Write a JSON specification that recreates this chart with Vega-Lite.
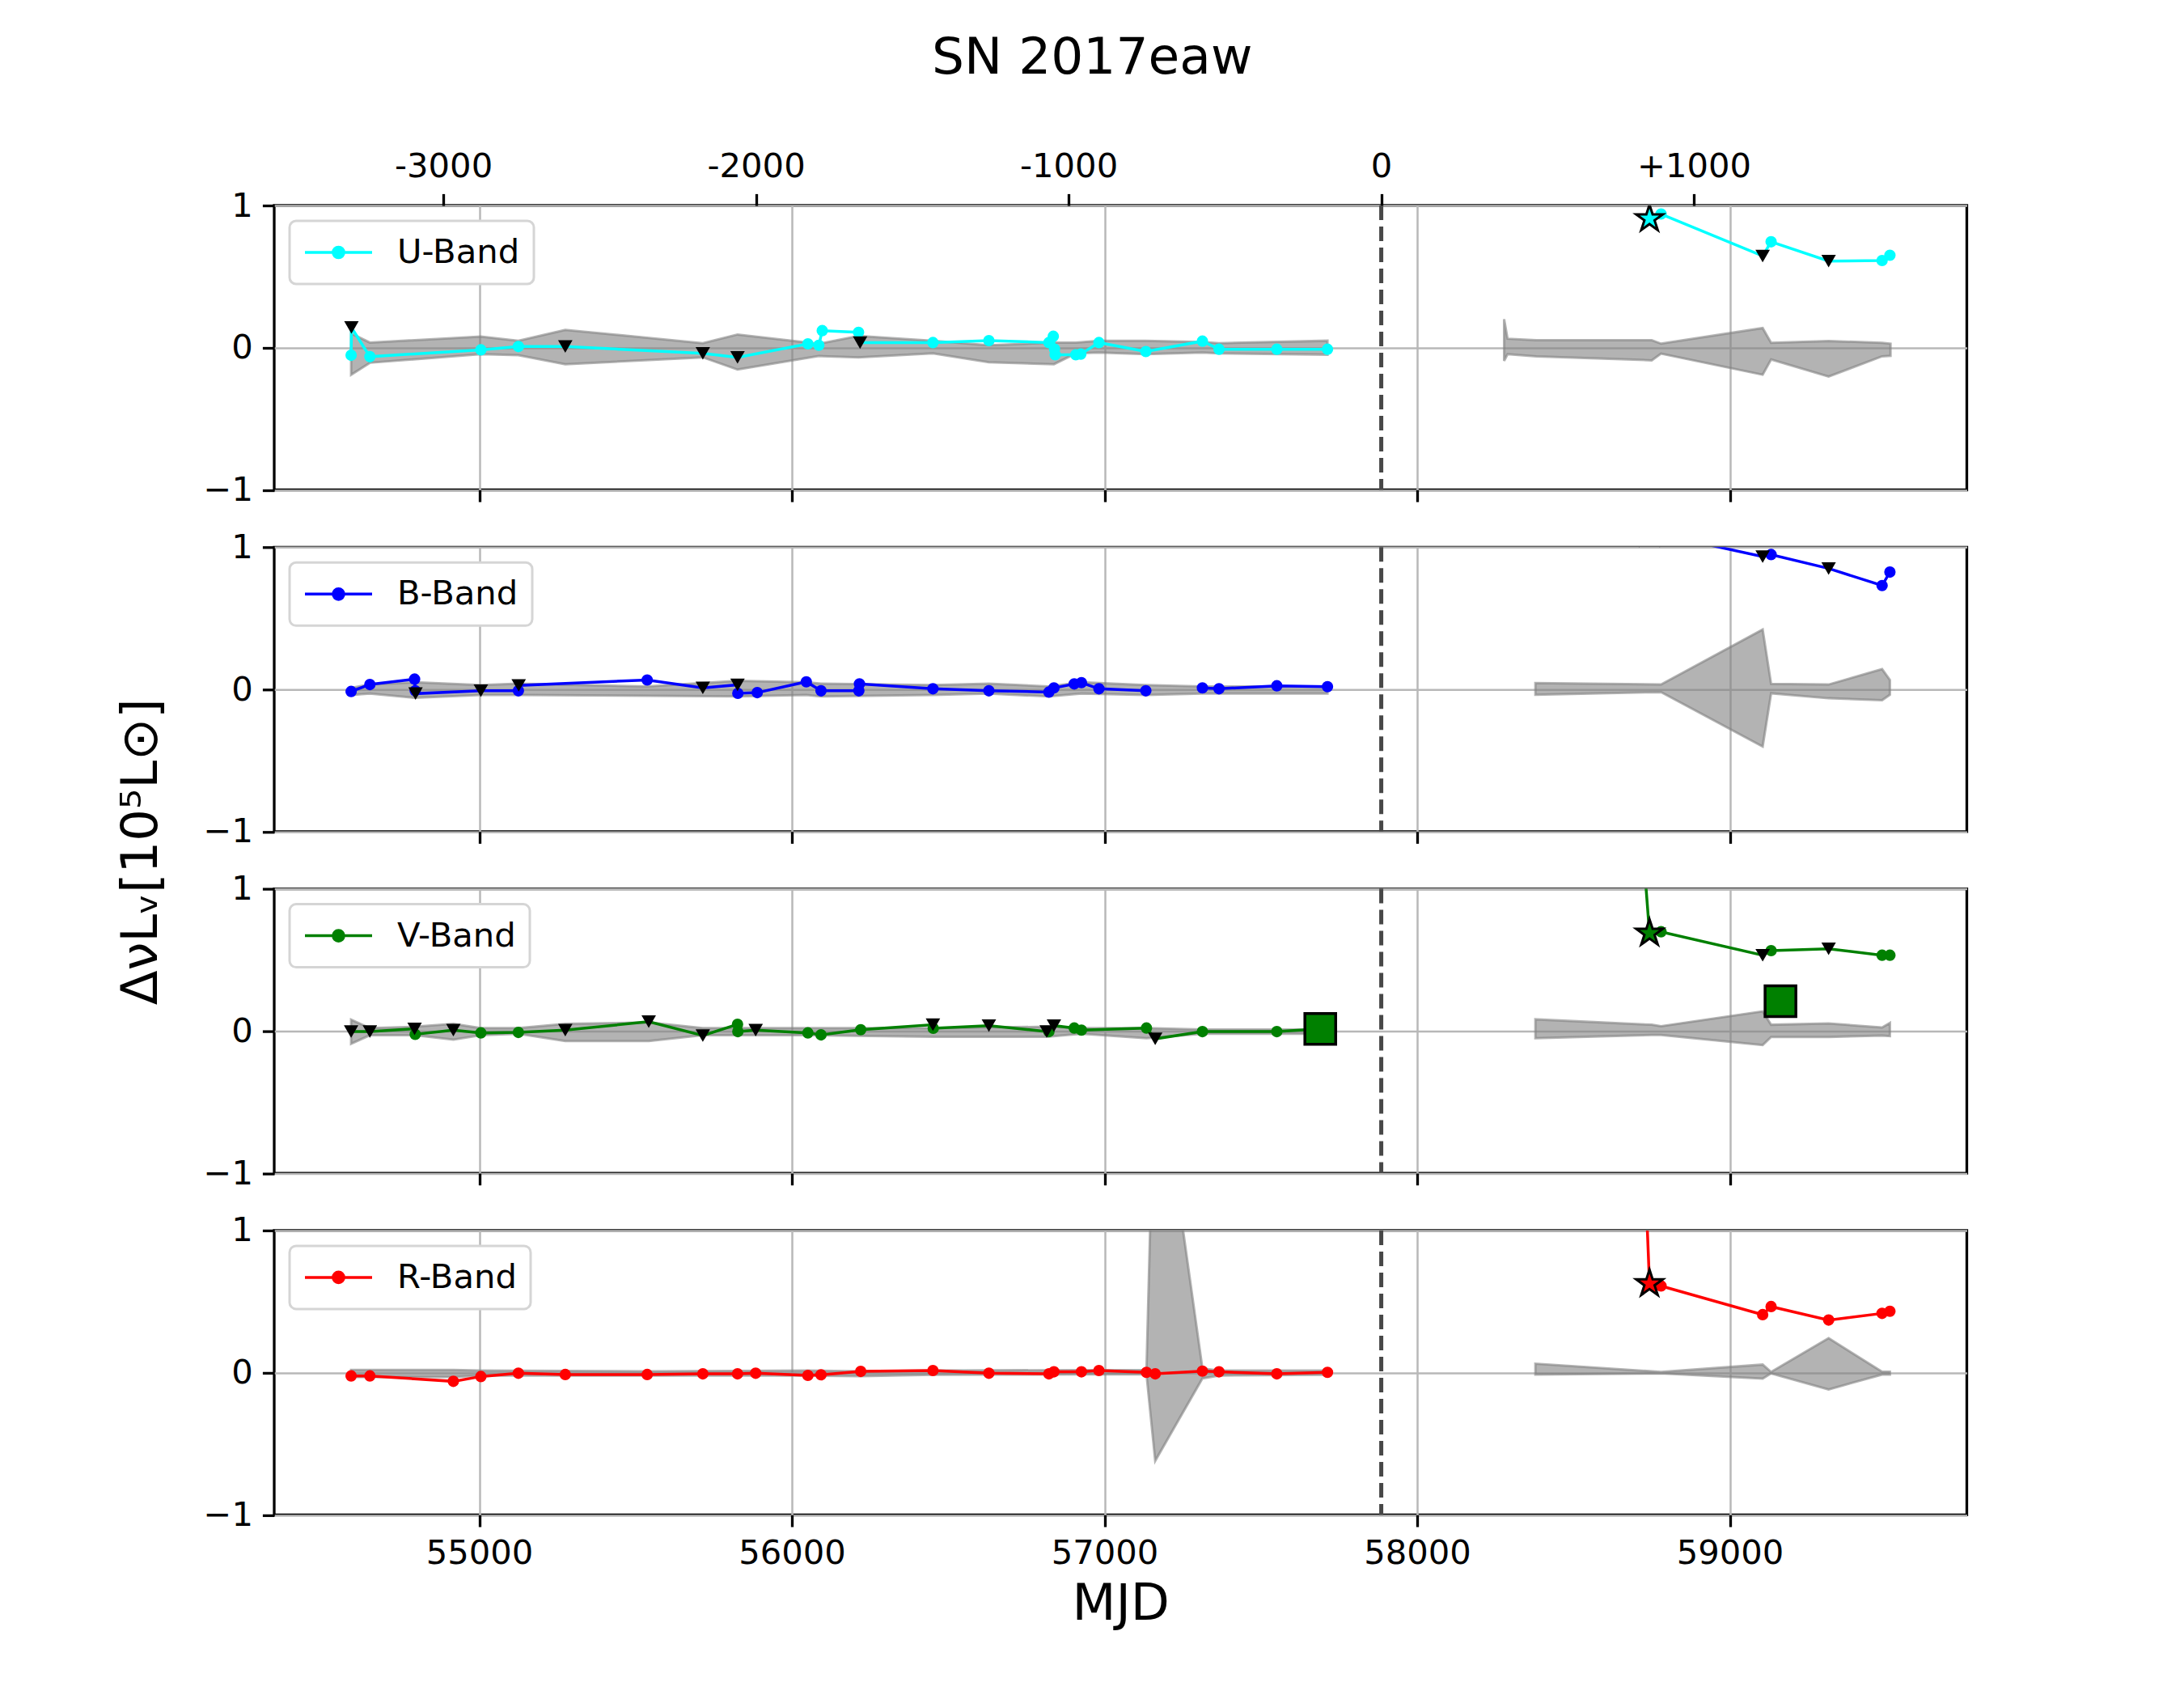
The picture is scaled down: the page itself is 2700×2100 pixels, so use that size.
{
  "$schema": "https://vega.github.io/schema/vega-lite/v6.json",
  "background": "white",
  "autosize": {"type": "pad"},
  "padding": {"left": 141, "top": 40, "right": 20, "bottom": 20},
  "title": {"text": "SN 2017eaw", "fontSize": 63, "fontWeight": "normal", "font": "DejaVu Sans", "color": "black", "anchor": "middle", "frame": "group", "offset": 80, "dx": -35},
  "bounds": "flush",
  "spacing": 70.3,
  "resolve": {"scale": {"color": "independent"}, "legend": {"color": "independent"}},
  "config": {
    "font": "DejaVu Sans",
    "view": {"stroke": "black", "strokeWidth": 3.3},
    "axis": {"domain": false, "tickColor": "black", "tickWidth": 3.3, "tickSize": 14.6, "labelFontSize": 41.7, "labelFont": "DejaVu Sans", "labelColor": "black", "labelPadding": 12, "labelFlush": false, "labelOverlap": false, "gridColor": "#b8b8b8", "gridWidth": 2.5, "titleFont": "DejaVu Sans", "titleFontSize": 62.5, "titleFontWeight": "normal", "titleColor": "black"},
    "legend": {"orient": "top-left", "offset": 19, "padding": 17, "cornerRadius": 8, "fillColor": "white", "strokeColor": "#d5d5d5", "strokeWidth": 3, "labelFontSize": 41.7, "labelFont": "DejaVu Sans", "labelColor": "black", "labelOffset": 72, "labelLimit": 0}
  },
  "datasets": {
    "pts": [
      {"b":"U","s":1,"mjd":54590,"v":-0.053,"k":"d"},{"b":"U","s":1,"mjd":54591,"v":0.142,"k":"l"},{"b":"U","s":1,"mjd":54650,"v":-0.063,"k":"d"},{"b":"U","s":1,"mjd":55005,"v":-0.015,"k":"d"},{"b":"U","s":1,"mjd":55125,"v":0.008,"k":"d"},{"b":"U","s":1,"mjd":55275,"v":0.008,"k":"l"},{"b":"U","s":1,"mjd":55715,"v":-0.040,"k":"l"},{"b":"U","s":1,"mjd":55826,"v":-0.068,"k":"l"},{"b":"U","s":1,"mjd":56051,"v":0.027,"k":"d"},{"b":"U","s":1,"mjd":56086,"v":0.017,"k":"d"},{"b":"U","s":1,"mjd":56097,"v":0.120,"k":"d"},{"b":"U","s":1,"mjd":56213,"v":0.108,"k":"d"},{"b":"U","s":1,"mjd":56218,"v":0.036,"k":"l"},{"b":"U","s":1,"mjd":56451,"v":0.036,"k":"d"},{"b":"U","s":1,"mjd":56630,"v":0.050,"k":"d"},{"b":"U","s":1,"mjd":56822,"v":0.036,"k":"d"},{"b":"U","s":1,"mjd":56836,"v":0.080,"k":"d"},{"b":"U","s":1,"mjd":56840,"v":-0.010,"k":"d"},{"b":"U","s":1,"mjd":56842,"v":-0.050,"k":"d"},{"b":"U","s":1,"mjd":56908,"v":-0.050,"k":"d"},{"b":"U","s":1,"mjd":56924,"v":-0.045,"k":"d"},{"b":"U","s":1,"mjd":56982,"v":0.036,"k":"d"},{"b":"U","s":1,"mjd":57132,"v":-0.027,"k":"d"},{"b":"U","s":1,"mjd":57313,"v":0.046,"k":"d"},{"b":"U","s":1,"mjd":57366,"v":-0.011,"k":"d"},{"b":"U","s":1,"mjd":57551,"v":-0.011,"k":"d"},{"b":"U","s":1,"mjd":57713,"v":-0.011,"k":"d"},
      {"b":"U","s":2,"mjd":58743,"v":0.907,"k":"s"},{"b":"U","s":2,"mjd":58780,"v":0.940,"k":"d"},{"b":"U","s":2,"mjd":59105,"v":0.645,"k":"l"},{"b":"U","s":2,"mjd":59132,"v":0.745,"k":"d"},{"b":"U","s":2,"mjd":59316,"v":0.609,"k":"l"},{"b":"U","s":2,"mjd":59487,"v":0.613,"k":"d"},{"b":"U","s":2,"mjd":59512,"v":0.650,"k":"d"},
      {"b":"B","s":1,"mjd":54590,"v":-0.015,"k":"d"},{"b":"B","s":1,"mjd":54650,"v":0.034,"k":"d"},{"b":"B","s":1,"mjd":54793,"v":0.072,"k":"d"},{"b":"B","s":1,"mjd":54795,"v":-0.010,"k":"d"},{"b":"B","s":1,"mjd":54796,"v":-0.030,"k":"l"},{"b":"B","s":1,"mjd":55005,"v":-0.010,"k":"l"},{"b":"B","s":1,"mjd":55125,"v":-0.010,"k":"d"},{"b":"B","s":1,"mjd":55126,"v":0.028,"k":"l"},{"b":"B","s":1,"mjd":55537,"v":0.066,"k":"d"},{"b":"B","s":1,"mjd":55715,"v":0.010,"k":"l"},{"b":"B","s":1,"mjd":55826,"v":0.032,"k":"l"},{"b":"B","s":1,"mjd":55827,"v":-0.028,"k":"d"},{"b":"B","s":1,"mjd":55889,"v":-0.023,"k":"d"},{"b":"B","s":1,"mjd":56046,"v":0.053,"k":"d"},{"b":"B","s":1,"mjd":56093,"v":-0.010,"k":"d"},{"b":"B","s":1,"mjd":56214,"v":-0.010,"k":"d"},{"b":"B","s":1,"mjd":56216,"v":0.038,"k":"d"},{"b":"B","s":1,"mjd":56451,"v":0.004,"k":"d"},{"b":"B","s":1,"mjd":56630,"v":-0.010,"k":"d"},{"b":"B","s":1,"mjd":56822,"v":-0.019,"k":"d"},{"b":"B","s":1,"mjd":56838,"v":0.010,"k":"d"},{"b":"B","s":1,"mjd":56903,"v":0.038,"k":"d"},{"b":"B","s":1,"mjd":56926,"v":0.047,"k":"d"},{"b":"B","s":1,"mjd":56982,"v":0.004,"k":"d"},{"b":"B","s":1,"mjd":57132,"v":-0.010,"k":"d"},
      {"b":"B","s":3,"mjd":57313,"v":0.010,"k":"d"},{"b":"B","s":3,"mjd":57366,"v":0.004,"k":"d"},{"b":"B","s":3,"mjd":57551,"v":0.025,"k":"d"},{"b":"B","s":3,"mjd":57713,"v":0.019,"k":"d"},
      {"b":"B","s":2,"mjd":58743,"v":1.10,"k":"s"},{"b":"B","s":2,"mjd":58780,"v":1.09,"k":"d"},{"b":"B","s":2,"mjd":59105,"v":0.933,"k":"l"},{"b":"B","s":2,"mjd":59132,"v":0.948,"k":"d"},{"b":"B","s":2,"mjd":59316,"v":0.850,"k":"l"},{"b":"B","s":2,"mjd":59487,"v":0.730,"k":"d"},{"b":"B","s":2,"mjd":59512,"v":0.825,"k":"d"},
      {"b":"V","s":1,"mjd":54590,"v":-0.004,"k":"l"},{"b":"V","s":1,"mjd":54650,"v":-0.004,"k":"l"},{"b":"V","s":1,"mjd":54793,"v":0.015,"k":"l"},{"b":"V","s":1,"mjd":54795,"v":-0.023,"k":"d"},{"b":"V","s":1,"mjd":54917,"v":0.006,"k":"l"},{"b":"V","s":1,"mjd":55005,"v":-0.013,"k":"d"},{"b":"V","s":1,"mjd":55125,"v":-0.010,"k":"d"},{"b":"V","s":1,"mjd":55275,"v":0.006,"k":"l"},{"b":"V","s":1,"mjd":55542,"v":0.066,"k":"l"},{"b":"V","s":1,"mjd":55715,"v":-0.032,"k":"l"},{"b":"V","s":1,"mjd":55826,"v":0.047,"k":"d"},{"b":"V","s":1,"mjd":55827,"v":-0.004,"k":"d"},{"b":"V","s":1,"mjd":55884,"v":0.006,"k":"l"},{"b":"V","s":1,"mjd":56051,"v":-0.013,"k":"d"},{"b":"V","s":1,"mjd":56093,"v":-0.027,"k":"d"},{"b":"V","s":1,"mjd":56220,"v":0.009,"k":"d"},{"b":"V","s":1,"mjd":56451,"v":0.044,"k":"l"},{"b":"V","s":1,"mjd":56452,"v":0.019,"k":"d"},{"b":"V","s":1,"mjd":56630,"v":0.038,"k":"l"},{"b":"V","s":1,"mjd":56815,"v":-0.004,"k":"l"},{"b":"V","s":1,"mjd":56822,"v":-0.004,"k":"d"},{"b":"V","s":1,"mjd":56838,"v":0.038,"k":"l"},{"b":"V","s":1,"mjd":56903,"v":0.021,"k":"d"},{"b":"V","s":1,"mjd":56926,"v":0.006,"k":"d"},{"b":"V","s":1,"mjd":57134,"v":0.021,"k":"d"},{"b":"V","s":1,"mjd":57162,"v":-0.055,"k":"l"},{"b":"V","s":1,"mjd":57313,"v":-0.004,"k":"d"},{"b":"V","s":1,"mjd":57551,"v":-0.004,"k":"d"},{"b":"V","s":1,"mjd":57690,"v":0.015,"k":"q"},
      {"b":"V","s":2,"mjd":58700,"v":1.93,"k":"h"},{"b":"V","s":2,"mjd":58743,"v":0.688,"k":"s"},{"b":"V","s":2,"mjd":58780,"v":0.698,"k":"d"},{"b":"V","s":2,"mjd":59105,"v":0.533,"k":"l"},{"b":"V","s":2,"mjd":59132,"v":0.565,"k":"d"},{"b":"V","s":2,"mjd":59316,"v":0.578,"k":"l"},{"b":"V","s":2,"mjd":59487,"v":0.533,"k":"d"},{"b":"V","s":2,"mjd":59512,"v":0.533,"k":"d"},
      {"b":"V","s":9,"mjd":59162,"v":0.210,"k":"Q"},
      {"b":"R","s":1,"mjd":54590,"v":-0.023,"k":"d"},{"b":"R","s":1,"mjd":54650,"v":-0.023,"k":"d"},{"b":"R","s":1,"mjd":54917,"v":-0.061,"k":"d"},{"b":"R","s":1,"mjd":55005,"v":-0.027,"k":"d"},{"b":"R","s":1,"mjd":55125,"v":-0.004,"k":"d"},{"b":"R","s":1,"mjd":55275,"v":-0.013,"k":"d"},{"b":"R","s":1,"mjd":55537,"v":-0.013,"k":"d"},{"b":"R","s":1,"mjd":55715,"v":-0.008,"k":"d"},{"b":"R","s":1,"mjd":55826,"v":-0.008,"k":"d"},{"b":"R","s":1,"mjd":55884,"v":-0.004,"k":"d"},{"b":"R","s":1,"mjd":56051,"v":-0.019,"k":"d"},{"b":"R","s":1,"mjd":56093,"v":-0.015,"k":"d"},{"b":"R","s":1,"mjd":56220,"v":0.009,"k":"d"},{"b":"R","s":1,"mjd":56451,"v":0.015,"k":"d"},{"b":"R","s":1,"mjd":56630,"v":-0.004,"k":"d"},{"b":"R","s":1,"mjd":56822,"v":-0.008,"k":"d"},{"b":"R","s":1,"mjd":56838,"v":0.006,"k":"d"},{"b":"R","s":1,"mjd":56926,"v":0.006,"k":"d"},{"b":"R","s":1,"mjd":56982,"v":0.015,"k":"d"},{"b":"R","s":1,"mjd":57134,"v":0.002,"k":"d"},{"b":"R","s":1,"mjd":57162,"v":-0.008,"k":"d"},{"b":"R","s":1,"mjd":57313,"v":0.011,"k":"d"},{"b":"R","s":1,"mjd":57366,"v":0.006,"k":"d"},{"b":"R","s":1,"mjd":57551,"v":-0.008,"k":"d"},{"b":"R","s":1,"mjd":57713,"v":0.002,"k":"d"},
      {"b":"R","s":2,"mjd":58700,"v":3.0,"k":"h"},{"b":"R","s":2,"mjd":58743,"v":0.626,"k":"s"},{"b":"R","s":2,"mjd":58780,"v":0.610,"k":"d"},{"b":"R","s":2,"mjd":59105,"v":0.408,"k":"d"},{"b":"R","s":2,"mjd":59132,"v":0.465,"k":"d"},{"b":"R","s":2,"mjd":59316,"v":0.370,"k":"d"},{"b":"R","s":2,"mjd":59487,"v":0.417,"k":"d"},{"b":"R","s":2,"mjd":59512,"v":0.432,"k":"d"}
    ],
    "band": [
      {"b":"U","s":1,"mjd":54590,"lo":-0.19,"hi":0.10},{"b":"U","s":1,"mjd":54650,"lo":-0.106,"hi":0.036},{"b":"U","s":1,"mjd":55005,"lo":-0.046,"hi":0.078},{"b":"U","s":1,"mjd":55125,"lo":-0.053,"hi":0.049},{"b":"U","s":1,"mjd":55275,"lo":-0.116,"hi":0.125},{"b":"U","s":1,"mjd":55715,"lo":-0.068,"hi":0.032},{"b":"U","s":1,"mjd":55826,"lo":-0.154,"hi":0.093},{"b":"U","s":1,"mjd":56086,"lo":-0.059,"hi":0.027},{"b":"U","s":1,"mjd":56213,"lo":-0.068,"hi":0.083},{"b":"U","s":1,"mjd":56451,"lo":-0.040,"hi":0.049},{"b":"U","s":1,"mjd":56630,"lo":-0.103,"hi":0.017},{"b":"U","s":1,"mjd":56838,"lo":-0.116,"hi":0.036},{"b":"U","s":1,"mjd":56908,"lo":-0.040,"hi":0.036},{"b":"U","s":1,"mjd":56982,"lo":-0.034,"hi":0.049},{"b":"U","s":1,"mjd":57132,"lo":-0.046,"hi":0.049},{"b":"U","s":1,"mjd":57313,"lo":-0.034,"hi":0.040},{"b":"U","s":1,"mjd":57366,"lo":-0.040,"hi":0.032},{"b":"U","s":1,"mjd":57713,"lo":-0.049,"hi":0.049},
      {"b":"U","s":2,"mjd":58278,"lo":-0.093,"hi":0.200},{"b":"U","s":2,"mjd":58289,"lo":-0.046,"hi":0.063},{"b":"U","s":2,"mjd":58381,"lo":-0.061,"hi":0.053},{"b":"U","s":2,"mjd":58750,"lo":-0.089,"hi":0.053},{"b":"U","s":2,"mjd":58780,"lo":-0.042,"hi":0.028},{"b":"U","s":2,"mjd":59105,"lo":-0.190,"hi":0.138},{"b":"U","s":2,"mjd":59132,"lo":-0.083,"hi":0.034},{"b":"U","s":2,"mjd":59316,"lo":-0.203,"hi":0.047},{"b":"U","s":2,"mjd":59487,"lo":-0.061,"hi":0.034},{"b":"U","s":2,"mjd":59514,"lo":-0.057,"hi":0.028},
      {"b":"B","s":1,"mjd":54590,"lo":-0.040,"hi":0.010},{"b":"B","s":1,"mjd":54650,"lo":-0.030,"hi":0.035},{"b":"B","s":1,"mjd":54794,"lo":-0.060,"hi":0.050},{"b":"B","s":1,"mjd":55005,"lo":-0.040,"hi":0.030},{"b":"B","s":1,"mjd":55125,"lo":-0.040,"hi":0.040},{"b":"B","s":1,"mjd":55537,"lo":-0.045,"hi":0.020},{"b":"B","s":1,"mjd":55826,"lo":-0.050,"hi":0.060},{"b":"B","s":1,"mjd":56046,"lo":-0.040,"hi":0.050},{"b":"B","s":1,"mjd":56093,"lo":-0.050,"hi":0.040},{"b":"B","s":1,"mjd":56451,"lo":-0.040,"hi":0.030},{"b":"B","s":1,"mjd":56630,"lo":-0.030,"hi":0.040},{"b":"B","s":1,"mjd":56822,"lo":-0.050,"hi":0.020},{"b":"B","s":1,"mjd":56926,"lo":-0.030,"hi":0.050},{"b":"B","s":1,"mjd":57132,"lo":-0.040,"hi":0.030},{"b":"B","s":1,"mjd":57313,"lo":-0.030,"hi":0.020},{"b":"B","s":1,"mjd":57713,"lo":-0.030,"hi":0.020},
      {"b":"B","s":2,"mjd":58378,"lo":-0.038,"hi":0.044},{"b":"B","s":2,"mjd":58780,"lo":-0.019,"hi":0.034},{"b":"B","s":2,"mjd":59105,"lo":-0.402,"hi":0.421},{"b":"B","s":2,"mjd":59132,"lo":-0.028,"hi":0.038},{"b":"B","s":2,"mjd":59316,"lo":-0.063,"hi":0.034},{"b":"B","s":2,"mjd":59487,"lo":-0.076,"hi":0.142},{"b":"B","s":2,"mjd":59512,"lo":-0.038,"hi":0.066},
      {"b":"V","s":1,"mjd":54590,"lo":-0.090,"hi":0.080},{"b":"V","s":1,"mjd":54650,"lo":-0.030,"hi":0.020},{"b":"V","s":1,"mjd":54794,"lo":-0.030,"hi":0.030},{"b":"V","s":1,"mjd":54917,"lo":-0.060,"hi":0.050},{"b":"V","s":1,"mjd":55005,"lo":-0.030,"hi":0.020},{"b":"V","s":1,"mjd":55125,"lo":-0.020,"hi":0.020},{"b":"V","s":1,"mjd":55275,"lo":-0.070,"hi":0.050},{"b":"V","s":1,"mjd":55542,"lo":-0.070,"hi":0.060},{"b":"V","s":1,"mjd":55715,"lo":-0.030,"hi":0.020},{"b":"V","s":1,"mjd":56051,"lo":-0.030,"hi":0.020},{"b":"V","s":1,"mjd":56451,"lo":-0.040,"hi":0.020},{"b":"V","s":1,"mjd":56815,"lo":-0.040,"hi":0.030},{"b":"V","s":1,"mjd":56926,"lo":-0.020,"hi":0.020},{"b":"V","s":1,"mjd":57134,"lo":-0.050,"hi":0.020},{"b":"V","s":1,"mjd":57313,"lo":-0.020,"hi":0.010},{"b":"V","s":1,"mjd":57690,"lo":-0.020,"hi":0.010},
      {"b":"V","s":2,"mjd":58378,"lo":-0.051,"hi":0.082},{"b":"V","s":2,"mjd":58750,"lo":-0.028,"hi":0.044},{"b":"V","s":2,"mjd":58780,"lo":-0.028,"hi":0.034},{"b":"V","s":2,"mjd":59105,"lo":-0.099,"hi":0.138},{"b":"V","s":2,"mjd":59132,"lo":-0.042,"hi":0.044},{"b":"V","s":2,"mjd":59316,"lo":-0.042,"hi":0.053},{"b":"V","s":2,"mjd":59487,"lo":-0.032,"hi":0.025},{"b":"V","s":2,"mjd":59512,"lo":-0.036,"hi":0.057},
      {"b":"R","s":1,"mjd":54590,"lo":-0.030,"hi":0.020},{"b":"R","s":1,"mjd":54917,"lo":-0.030,"hi":0.020},{"b":"R","s":1,"mjd":55005,"lo":-0.020,"hi":0.015},{"b":"R","s":1,"mjd":55537,"lo":-0.020,"hi":0.010},{"b":"R","s":1,"mjd":56051,"lo":-0.020,"hi":0.015},{"b":"R","s":1,"mjd":56220,"lo":-0.025,"hi":0.010},{"b":"R","s":1,"mjd":56451,"lo":-0.015,"hi":0.015},{"b":"R","s":1,"mjd":57134,"lo":-0.010,"hi":0.020},{"b":"R","s":1,"mjd":57162,"lo":-0.620,"hi":2.400},{"b":"R","s":1,"mjd":57313,"lo":-0.040,"hi":0.030},{"b":"R","s":1,"mjd":57366,"lo":-0.020,"hi":0.015},{"b":"R","s":1,"mjd":57713,"lo":-0.015,"hi":0.015},
      {"b":"R","s":2,"mjd":58378,"lo":-0.013,"hi":0.063},{"b":"R","s":2,"mjd":58780,"lo":-0.005,"hi":0.005},{"b":"R","s":2,"mjd":59105,"lo":-0.042,"hi":0.057},{"b":"R","s":2,"mjd":59132,"lo":-0.005,"hi":0.005},{"b":"R","s":2,"mjd":59316,"lo":-0.118,"hi":0.243},{"b":"R","s":2,"mjd":59487,"lo":-0.013,"hi":0.006},{"b":"R","s":2,"mjd":59512,"lo":-0.013,"hi":0.006}
    ]
  },
  "vconcat": [
    {
      "width": 2092.5, "height": 351.5,
      "layer": [
        {
          "encoding": {"x": {"field": "mjd", "type": "quantitative", "scale": {"domain": [54344, 59758], "nice": false, "zero": false}, "axis": {"values": [55000, 56000, 57000, 58000, 59000], "labels": false, "title": null, "grid": true}}},
          "layer": [
            {"data": {"name": "band"}, "transform": [{"filter": "datum.b == 'U'"}], "mark": {"type": "area", "fill": "#808080", "fillOpacity": 0.6, "stroke": "#808080", "strokeOpacity": 0.6, "strokeWidth": 3, "clip": true}, "encoding": {"y": {"field": "lo", "type": "quantitative", "scale": {"domain": [-1, 1], "nice": false, "zero": false}, "axis": {"values": [-1, 0, 1], "labelExpr": "datum.value < 0 ? '\u2212' + abs(datum.value) : '' + datum.value", "grid": true, "title": null}}, "y2": {"field": "hi"}, "detail": {"field": "s"}}},
            {"data": {"name": "pts"}, "transform": [{"filter": "datum.b == 'U' && datum.k != 'Q'"}], "mark": {"type": "line", "strokeWidth": 3.5, "clip": true}, "encoding": {"y": {"field": "v", "type": "quantitative", "scale": {"domain": [-1, 1], "nice": false, "zero": false}}, "detail": {"field": "s"}, "color": {"datum": "U-Band", "type": "nominal", "scale": {"range": ["#00ffff"]}, "legend": {"title": null, "symbolType": "M-1,0L3.15,0M0.745,0A0.33,0.33,0,1,1,1.405,0A0.33,0.33,0,1,1,0.745,0Z", "symbolSize": 1600, "encode": {"symbols": {"update": {"fill": {"value": "#00ffff"}, "stroke": {"value": "#00ffff"}, "strokeWidth": {"value": 3.5}, "opacity": {"value": 1}}}}}}}},
            {"data": {"name": "pts"}, "transform": [{"filter": "datum.b == 'U' && datum.k == 'd'"}], "mark": {"type": "circle", "size": 200, "color": "#00ffff", "opacity": 1, "clip": true}, "encoding": {"y": {"field": "v", "type": "quantitative"}}},
            {"data": {"name": "pts"}, "transform": [{"filter": "datum.b == 'U' && datum.k == 'l'"}], "mark": {"type": "point", "shape": "triangle-down", "filled": true, "color": "black", "size": 320, "opacity": 1, "clip": true}, "encoding": {"y": {"field": "v", "type": "quantitative"}}},
            {"data": {"name": "pts"}, "transform": [{"filter": "datum.b == 'U' && datum.k == 's'"}], "mark": {"type": "point", "shape": "M0,-1L0.2245,-0.309L0.951,-0.309L0.363,0.118L0.588,0.809L0,0.382L-0.588,0.809L-0.363,0.118L-0.951,-0.309L-0.2245,-0.309Z", "filled": true, "fill": "#00ffff", "stroke": "black", "strokeWidth": 3, "size": 1200, "opacity": 1, "clip": true}, "encoding": {"y": {"field": "v", "type": "quantitative"}}}
          ]
        },
        {"data": {"values": [{"off": 0}]}, "mark": {"type": "rule", "color": "#474747", "strokeWidth": 5, "strokeDash": [18, 8]}, "encoding": {"x": {"field": "off", "type": "quantitative", "scale": {"domain": [-3541, 1873], "nice": false, "zero": false}, "axis": {"orient": "top", "values": [-3000, -2000, -1000, 0, 1000], "labelExpr": "datum.value > 0 ? '+' + datum.value : '' + datum.value", "grid": false, "title": null}}}}
      ],
      "resolve": {"scale": {"x": "independent"}}
    },
    {
      "width": 2092.5, "height": 351.5,
      "encoding": {"x": {"field": "mjd", "type": "quantitative", "scale": {"domain": [54344, 59758], "nice": false, "zero": false}, "axis": {"values": [55000, 56000, 57000, 58000, 59000], "labels": false, "title": null, "grid": true}}},
      "layer": [
        {"data": {"name": "band"}, "transform": [{"filter": "datum.b == 'B'"}], "mark": {"type": "area", "fill": "#808080", "fillOpacity": 0.6, "stroke": "#808080", "strokeOpacity": 0.6, "strokeWidth": 3, "clip": true}, "encoding": {"y": {"field": "lo", "type": "quantitative", "scale": {"domain": [-1, 1], "nice": false, "zero": false}, "axis": {"values": [-1, 0, 1], "labelExpr": "datum.value < 0 ? '\u2212' + abs(datum.value) : '' + datum.value", "grid": true, "title": "ΔνLᵥ[10⁵L⊙]", "titleX": -146, "titleY": 376, "titleAngle": 270, "titleBaseline": "alphabetic", "titleAlign": "center"}}, "y2": {"field": "hi"}, "detail": {"field": "s"}}},
        {"data": {"name": "pts"}, "transform": [{"filter": "datum.b == 'B' && datum.k != 'Q'"}], "mark": {"type": "line", "strokeWidth": 3.5, "clip": true}, "encoding": {"y": {"field": "v", "type": "quantitative", "scale": {"domain": [-1, 1], "nice": false, "zero": false}}, "detail": {"field": "s"}, "color": {"datum": "B-Band", "type": "nominal", "scale": {"range": ["#0000ff"]}, "legend": {"title": null, "symbolType": "M-1,0L3.15,0M0.745,0A0.33,0.33,0,1,1,1.405,0A0.33,0.33,0,1,1,0.745,0Z", "symbolSize": 1600, "encode": {"symbols": {"update": {"fill": {"value": "#0000ff"}, "stroke": {"value": "#0000ff"}, "strokeWidth": {"value": 3.5}, "opacity": {"value": 1}}}}}}}},
        {"data": {"name": "pts"}, "transform": [{"filter": "datum.b == 'B' && datum.k == 'd'"}], "mark": {"type": "circle", "size": 200, "color": "#0000ff", "opacity": 1, "clip": true}, "encoding": {"y": {"field": "v", "type": "quantitative"}}},
        {"data": {"name": "pts"}, "transform": [{"filter": "datum.b == 'B' && datum.k == 'l'"}], "mark": {"type": "point", "shape": "triangle-down", "filled": true, "color": "black", "size": 320, "opacity": 1, "clip": true}, "encoding": {"y": {"field": "v", "type": "quantitative"}}},
        {"data": {"name": "pts"}, "transform": [{"filter": "datum.b == 'B' && datum.k == 's'"}], "mark": {"type": "point", "shape": "M0,-1L0.2245,-0.309L0.951,-0.309L0.363,0.118L0.588,0.809L0,0.382L-0.588,0.809L-0.363,0.118L-0.951,-0.309L-0.2245,-0.309Z", "filled": true, "fill": "#0000ff", "stroke": "black", "strokeWidth": 3, "size": 1200, "opacity": 1, "clip": true}, "encoding": {"y": {"field": "v", "type": "quantitative"}}},
        {"data": {"values": [{"mjd": 57885}]}, "mark": {"type": "rule", "color": "#474747", "strokeWidth": 5, "strokeDash": [18, 8]}, "encoding": {}}
      ]
    },
    {
      "width": 2092.5, "height": 351.5,
      "encoding": {"x": {"field": "mjd", "type": "quantitative", "scale": {"domain": [54344, 59758], "nice": false, "zero": false}, "axis": {"values": [55000, 56000, 57000, 58000, 59000], "labels": false, "title": null, "grid": true}}},
      "layer": [
        {"data": {"name": "band"}, "transform": [{"filter": "datum.b == 'V'"}], "mark": {"type": "area", "fill": "#808080", "fillOpacity": 0.6, "stroke": "#808080", "strokeOpacity": 0.6, "strokeWidth": 3, "clip": true}, "encoding": {"y": {"field": "lo", "type": "quantitative", "scale": {"domain": [-1, 1], "nice": false, "zero": false}, "axis": {"values": [-1, 0, 1], "labelExpr": "datum.value < 0 ? '\u2212' + abs(datum.value) : '' + datum.value", "grid": true, "title": null}}, "y2": {"field": "hi"}, "detail": {"field": "s"}}},
        {"data": {"name": "pts"}, "transform": [{"filter": "datum.b == 'V' && datum.k != 'Q'"}], "mark": {"type": "line", "strokeWidth": 3.5, "clip": true}, "encoding": {"y": {"field": "v", "type": "quantitative", "scale": {"domain": [-1, 1], "nice": false, "zero": false}}, "detail": {"field": "s"}, "color": {"datum": "V-Band", "type": "nominal", "scale": {"range": ["#008000"]}, "legend": {"title": null, "symbolType": "M-1,0L3.15,0M0.745,0A0.33,0.33,0,1,1,1.405,0A0.33,0.33,0,1,1,0.745,0Z", "symbolSize": 1600, "encode": {"symbols": {"update": {"fill": {"value": "#008000"}, "stroke": {"value": "#008000"}, "strokeWidth": {"value": 3.5}, "opacity": {"value": 1}}}}}}}},
        {"data": {"name": "pts"}, "transform": [{"filter": "datum.b == 'V' && datum.k == 'd'"}], "mark": {"type": "circle", "size": 200, "color": "#008000", "opacity": 1, "clip": true}, "encoding": {"y": {"field": "v", "type": "quantitative"}}},
        {"data": {"name": "pts"}, "transform": [{"filter": "datum.b == 'V' && datum.k == 'l'"}], "mark": {"type": "point", "shape": "triangle-down", "filled": true, "color": "black", "size": 320, "opacity": 1, "clip": true}, "encoding": {"y": {"field": "v", "type": "quantitative"}}},
        {"data": {"name": "pts"}, "transform": [{"filter": "datum.b == 'V' && datum.k == 's'"}], "mark": {"type": "point", "shape": "M0,-1L0.2245,-0.309L0.951,-0.309L0.363,0.118L0.588,0.809L0,0.382L-0.588,0.809L-0.363,0.118L-0.951,-0.309L-0.2245,-0.309Z", "filled": true, "fill": "#008000", "stroke": "black", "strokeWidth": 3, "size": 1200, "opacity": 1, "clip": true}, "encoding": {"y": {"field": "v", "type": "quantitative"}}},
        {"data": {"name": "pts"}, "transform": [{"filter": "datum.b == 'V' && (datum.k == 'q' || datum.k == 'Q')"}], "mark": {"type": "square", "size": 1450, "fill": "#008000", "stroke": "black", "strokeWidth": 3.5, "opacity": 1, "clip": true}, "encoding": {"y": {"field": "v", "type": "quantitative"}}},
        {"data": {"values": [{"mjd": 57885}]}, "mark": {"type": "rule", "color": "#474747", "strokeWidth": 5, "strokeDash": [18, 8]}, "encoding": {}}
      ]
    },
    {
      "width": 2092.5, "height": 351.5,
      "encoding": {"x": {"field": "mjd", "type": "quantitative", "scale": {"domain": [54344, 59758], "nice": false, "zero": false}, "axis": {"values": [55000, 56000, 57000, 58000, 59000], "format": "d", "title": "MJD", "titlePadding": 12, "grid": true}}},
      "layer": [
        {"data": {"name": "band"}, "transform": [{"filter": "datum.b == 'R'"}], "mark": {"type": "area", "fill": "#808080", "fillOpacity": 0.6, "stroke": "#808080", "strokeOpacity": 0.6, "strokeWidth": 3, "clip": true}, "encoding": {"y": {"field": "lo", "type": "quantitative", "scale": {"domain": [-1, 1], "nice": false, "zero": false}, "axis": {"values": [-1, 0, 1], "labelExpr": "datum.value < 0 ? '\u2212' + abs(datum.value) : '' + datum.value", "grid": true, "title": null}}, "y2": {"field": "hi"}, "detail": {"field": "s"}}},
        {"data": {"name": "pts"}, "transform": [{"filter": "datum.b == 'R' && datum.k != 'Q'"}], "mark": {"type": "line", "strokeWidth": 3.5, "clip": true}, "encoding": {"y": {"field": "v", "type": "quantitative", "scale": {"domain": [-1, 1], "nice": false, "zero": false}}, "detail": {"field": "s"}, "color": {"datum": "R-Band", "type": "nominal", "scale": {"range": ["#ff0000"]}, "legend": {"title": null, "symbolType": "M-1,0L3.15,0M0.745,0A0.33,0.33,0,1,1,1.405,0A0.33,0.33,0,1,1,0.745,0Z", "symbolSize": 1600, "encode": {"symbols": {"update": {"fill": {"value": "#ff0000"}, "stroke": {"value": "#ff0000"}, "strokeWidth": {"value": 3.5}, "opacity": {"value": 1}}}}}}}},
        {"data": {"name": "pts"}, "transform": [{"filter": "datum.b == 'R' && datum.k == 'd'"}], "mark": {"type": "circle", "size": 200, "color": "#ff0000", "opacity": 1, "clip": true}, "encoding": {"y": {"field": "v", "type": "quantitative"}}},
        {"data": {"name": "pts"}, "transform": [{"filter": "datum.b == 'R' && datum.k == 's'"}], "mark": {"type": "point", "shape": "M0,-1L0.2245,-0.309L0.951,-0.309L0.363,0.118L0.588,0.809L0,0.382L-0.588,0.809L-0.363,0.118L-0.951,-0.309L-0.2245,-0.309Z", "filled": true, "fill": "#ff0000", "stroke": "black", "strokeWidth": 3, "size": 1200, "opacity": 1, "clip": true}, "encoding": {"y": {"field": "v", "type": "quantitative"}}},
        {"data": {"values": [{"mjd": 57885}]}, "mark": {"type": "rule", "color": "#474747", "strokeWidth": 5, "strokeDash": [18, 8]}, "encoding": {}}
      ]
    }
  ]
}
